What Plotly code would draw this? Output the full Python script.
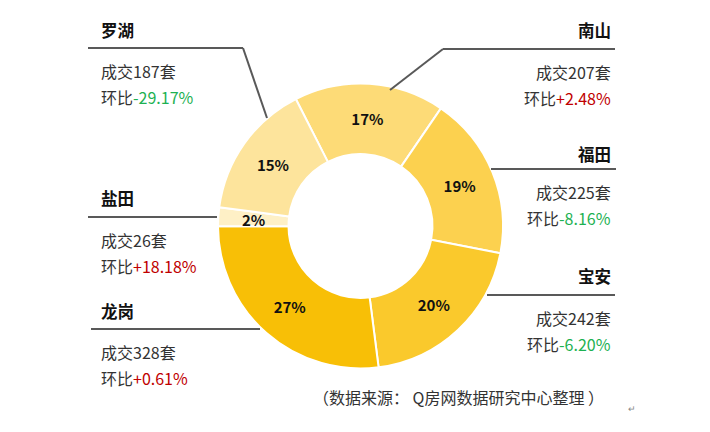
import math
import plotly.graph_objects as go

W, H = 710, 432

districts = ["南山", "福田", "宝安", "龙岗", "盐田", "罗湖"]
deals = [207, 225, 242, 328, 26, 187]
changes = ["+2.48%", "-8.16%", "-6.20%", "+0.61%", "+18.18%", "-29.17%"]
colors = ["#FDDB77", "#FCD14F", "#FAC92C", "#F8BF06", "#FEF0C6", "#FDE49C"]
source_note = "（数据来源： Q房网数据研究中心整理 ）"

FONT = "Microsoft YaHei, Noto Sans CJK SC, sans-serif"

# page offset of the plot div (default body margin)
OFF = 8

# pie placement in page pixels
cx, cy, R = 360.5, 226, 142.5
HOLE = 0.505
ROT = 333


def px(x):
    return (x - OFF) / W


def py(y):
    return 1 - (y - OFF) / H


total = sum(deals)
small = [v / total < 0.05 for v in deals]
pct_font = dict(family=FONT, size=15, color="#111111", weight="bold")

fig = go.Figure()
fig.add_trace(go.Pie(
    labels=districts,
    values=deals,
    sort=False,
    direction="clockwise",
    rotation=ROT,
    hole=HOLE,
    marker=dict(colors=colors, line=dict(color="white", width=2)),
    texttemplate=["" if s else "%{percent:.0%}" for s in small],
    textposition="inside",
    insidetextorientation="horizontal",
    textfont=pct_font,
    domain=dict(x=[px(cx - R), px(cx + R)], y=[py(cy + R), py(cy - R)]),
    showlegend=False,
    hoverinfo="label+value+percent",
))

# thin slices: put the percentage in the middle of the ring
cum = 0
for v, s in zip(deals, small):
    if s:
        a = math.radians(ROT + 360 * (cum + v / 2) / total)
        rm = R * (1 + HOLE) / 2
        fig.add_annotation(x=px(cx + rm * math.sin(a)), y=py(cy - rm * math.cos(a)),
                           xref="paper", yref="paper", showarrow=False,
                           text=f"{round(100 * v / total)}%", font=pct_font,
                           xanchor="center", yanchor="middle")
    cum += v

# label blocks: (district index, side, title y, line y, line x0, line x1, elbow end or None)
blocks = [
    (5, "left", 30, 48, 88, 243, (267, 118)),
    (0, "right", 30, 49, 443, 615, (390, 90)),
    (1, "right", 154, 169, 491, 616, None),
    (2, "right", 276, 295, 487, 615, None),
    (4, "left", 198, 217, 88, 217, None),
    (3, "left", 311, 329, 91, 260, None),
]

for i, side, ty, ly, x0, x1, elbow in blocks:
    name, n, ch = districts[i], deals[i], changes[i]
    col = "#C00000" if ch.startswith("+") else "#1DB152"
    if side == "left":
        tx, anchor = 99, "left"
    else:
        tx, anchor = 613, "right"
    fig.add_annotation(x=px(tx), y=py(ty), xref="paper", yref="paper",
                       text=f"<b>{name}</b>", showarrow=False,
                       xanchor=anchor, yanchor="middle",
                       font=dict(family=FONT, size=16.5, color="#111111"))
    fig.add_annotation(x=px(tx), y=py(ly + 23), xref="paper", yref="paper",
                       text=f"成交{n}套", showarrow=False,
                       xanchor=anchor, yanchor="middle",
                       font=dict(family=FONT, size=16, color="#333333"))
    fig.add_annotation(x=px(tx), y=py(ly + 49), xref="paper", yref="paper",
                       text=f"环比<span style='color:{col}'>{ch}</span>",
                       showarrow=False, xanchor=anchor, yanchor="middle",
                       font=dict(family=FONT, size=16, color="#333333"))
    fig.add_shape(type="line", xref="paper", yref="paper",
                  x0=px(x0), x1=px(x1), y0=py(ly), y1=py(ly),
                  line=dict(color="#595959", width=2))
    if elbow:
        ex = x1 if side == "left" else x0
        fig.add_shape(type="line", xref="paper", yref="paper",
                      x0=px(ex), y0=py(ly), x1=px(elbow[0]), y1=py(elbow[1]),
                      line=dict(color="#595959", width=2))

fig.add_annotation(x=px(458), y=py(397), xref="paper", yref="paper",
                   text=source_note, showarrow=False,
                   xanchor="center", yanchor="middle",
                   font=dict(family=FONT, size=16, color="#333333"))
fig.add_annotation(x=px(632), y=py(408), xref="paper", yref="paper",
                   text="↵", showarrow=False, xanchor="center", yanchor="middle",
                   font=dict(family=FONT, size=9, color="#888888"))

fig.update_layout(
    width=W, height=H,
    margin=dict(l=0, r=0, t=0, b=0),
    paper_bgcolor="white",
    plot_bgcolor="white",
    font=dict(family=FONT),
)

fig.write_html("out.html")
